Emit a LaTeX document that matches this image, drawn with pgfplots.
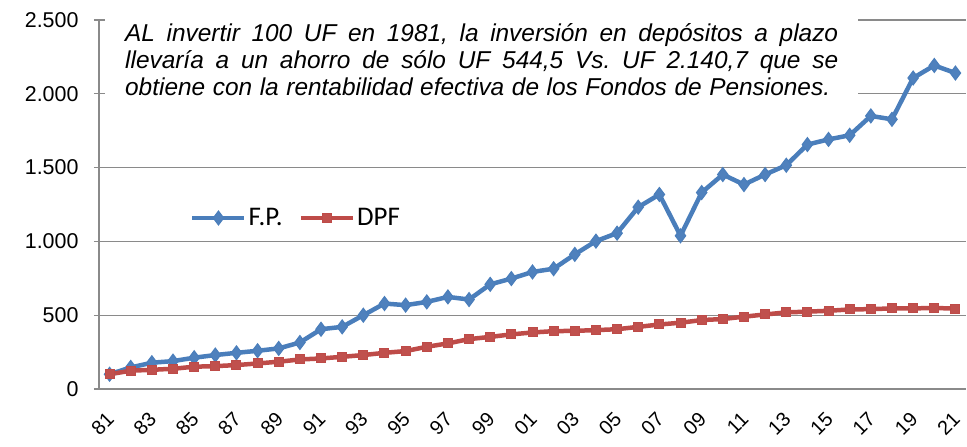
\documentclass[border=0pt]{standalone}
\usepackage{pgfplots}
\pgfplotsset{compat=1.18}
\usepackage{pgfplotstable}
\usepackage{fontspec}
\setmainfont{Liberation Sans}
\newfontfamily\legfont{Carlito}
\definecolor{fpline}{HTML}{4A7EBB}
\definecolor{fpfill}{HTML}{4F81BD}
\definecolor{dpline}{HTML}{BE4B48}
\definecolor{dpfill}{HTML}{C0504D}
\definecolor{gridc}{HTML}{8A8A8A}

\pgfplotstableread{
x fp dpf
0 100 100
1 146 124
2 178 130
3 189 137
4 212 151
5 230 155
6 245 162
7 259 173
8 275 185
9 315 200
10 405 207
11 421 218
12 500 230
13 579 245
14 568 257
15 590 286
16 624 309
17 606 338
18 709 353
19 748 370
20 793 383
21 815 392
22 912 394
23 1002 399
24 1056 405
25 1232 421
26 1318 437
27 1038 449
28 1331 467
29 1453 474
30 1385 490
31 1453 505
32 1516 519
33 1656 524
34 1691 530
35 1719 539
36 1850 541
37 1827 546
38 2107 546
39 2192 549
40 2140.7 544.5
}\data

\begin{document}
\frenchspacing
\begin{tikzpicture}
\begin{axis}[name=ax, scale only axis, width=867bp, height=369bp,
  xmin=-0.5, xmax=40.5, ymin=0, ymax=2500,
  axis x line*=bottom, axis y line*=left,
  axis line style={gridc, line width=1.3bp, -},
  ytick={0,500,...,2500}, ymajorgrids, grid style={gridc, line width=1.3bp},
  xtick={0,2,...,40},
  xticklabels={81,83,85,87,89,91,93,95,97,99,01,03,05,07,09,11,13,15,17,19,21},
  xtick style={draw=none}, ytick style={gridc, line width=1.3bp},
  tick align=outside, major tick length=5bp,
  scaled y ticks=false,
  /pgf/number format/1000 sep={.},
  /pgf/number format/assume math mode=true,
  yticklabel style={font=\fontsize{21.5}{24}\selectfont, xshift=-12bp},
  xticklabel style={font=\fontsize{20}{22}\selectfont, xshift=1bp, yshift=-22bp, rotate=45, anchor=east, inner sep=0pt},
  legend style={at={(rel axis cs:0.105,0.4634)}, anchor=west, draw=none, fill=none,
    font=\legfont\fontsize{27}{30}\selectfont, inner sep=0pt,
    /tikz/every even column/.append style={column sep=14bp}},
  legend columns=-1,
  legend image code/.code={\draw[mark repeat=2,mark phase=2] plot coordinates {(0bp,0bp) (26bp,0bp) (52bp,0bp)};},
]
\addplot[color=fpline, line width=4.5bp, mark=diamond*, mark size=7bp,
  mark options={fill=fpfill, draw=fpline, line width=1bp}] table[x=x, y=fp] {\data};
\addlegendentry{F.P.}
\addplot[color=dpline, line width=4.5bp, mark=square*, mark size=4.5bp,
  mark options={fill=dpfill, draw=dpline, line width=1bp}] table[x=x, y=dpf] {\data};
\addlegendentry{DPF}
\node[anchor=north west, fill=white, inner xsep=20bp, inner ysep=11bp,
  font=\fontsize{24.5}{27.5}\selectfont\itshape] at (rel axis cs:0.0069,1.0217)
  {\parbox[t]{713bp}{\frenchspacing
  \hbox to\hsize{AL invertir 100 UF en 1981, la inversión en depósitos a plazo}%
  \hbox to\hsize{llevaría a un ahorro de sólo UF 544,5 Vs. UF 2.140,7 que se}%
  \hbox to 705bp{obtiene con la rentabilidad efectiva de los Fondos de Pensiones.}}};
\end{axis}
\pgfresetboundingbox
\path[use as bounding box] ([shift={(-99bp,-58bp)}]ax.south west) rectangle ([shift={(1bp,20bp)}]ax.north east);
\end{tikzpicture}
\end{document}
